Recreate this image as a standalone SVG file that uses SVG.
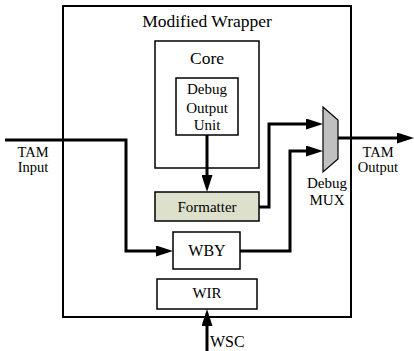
<svg xmlns="http://www.w3.org/2000/svg" width="414" height="351" viewBox="0 0 414 351" font-family="'Liberation Serif', 'Times New Roman', 'DejaVu Serif', serif">
<style>
text{font-family:'Liberation Serif','Times New Roman','DejaVu Serif',serif;fill:#000;text-anchor:middle}
.box{fill:#fff;stroke:#000;stroke-width:1.5}
.wire{fill:none;stroke:#000;stroke-width:3;marker-end:url(#ah)}
</style>
<defs>
<marker id="ah" viewBox="0 0 17 11" refX="0" refY="5.5" markerWidth="17" markerHeight="11" markerUnits="userSpaceOnUse" orient="auto">
<path d="M0,0 L17,5.5 L0,11 z" fill="#000"/>
</marker>
</defs>
<rect width="414" height="351" fill="#fff"/>
<g id="wrapper">
<rect x="63" y="6" width="288" height="311" fill="#fff" stroke="#000" stroke-width="2"/>
<text x="207" y="27" font-size="17.5">Modified Wrapper</text>
</g>
<g id="core">
<rect class="box" x="155" y="41" width="104" height="127"/>
<text x="207" y="64" font-size="17.5">Core</text>
</g>
<g id="debug-output-unit">
<rect class="box" x="176" y="78" width="62" height="57"/>
<text x="207" y="94" font-size="15">Debug</text>
<text x="207" y="113" font-size="15">Output</text>
<text x="207" y="130" font-size="15">Unit</text>
</g>
<g id="formatter">
<rect class="box" x="155" y="192" width="104" height="29" style="fill:#dde1cc"/>
<text x="207" y="212" font-size="15">Formatter</text>
</g>
<g id="wby">
<rect class="box" x="173" y="232" width="67" height="37"/>
<text x="207" y="256" font-size="16">WBY</text>
</g>
<g id="wir">
<rect class="box" x="157" y="279" width="100" height="30"/>
<text x="207" y="298" font-size="15">WIR</text>
</g>
<g id="debug-mux">
<polygon points="323,107 338,120 338,159 323,172" fill="#c0c0c0" stroke="#000" stroke-width="1.2"/>
<text x="327" y="188" font-size="15">Debug</text>
<text x="327" y="205" font-size="15">MUX</text>
</g>
<g id="labels">
<text x="33" y="157" font-size="14.5">TAM</text>
<text x="33" y="172" font-size="14.5">Input</text>
<text x="378" y="157" font-size="14.5">TAM</text>
<text x="378" y="172" font-size="14.5">Output</text>
<text x="210" y="347" font-size="16" style="text-anchor:start">WSC</text>
</g>
<g id="connectors">
<path class="wire" d="M5,140 H126 V251 H156"/>
<path class="wire" d="M207,135 V175"/>
<path class="wire" d="M259,207 H269 V124 H306"/>
<path class="wire" d="M240,251 H290 V151 H306"/>
<path class="wire" d="M338,138 H397"/>
<path class="wire" d="M207,351 V326"/>
</g>
</svg>
